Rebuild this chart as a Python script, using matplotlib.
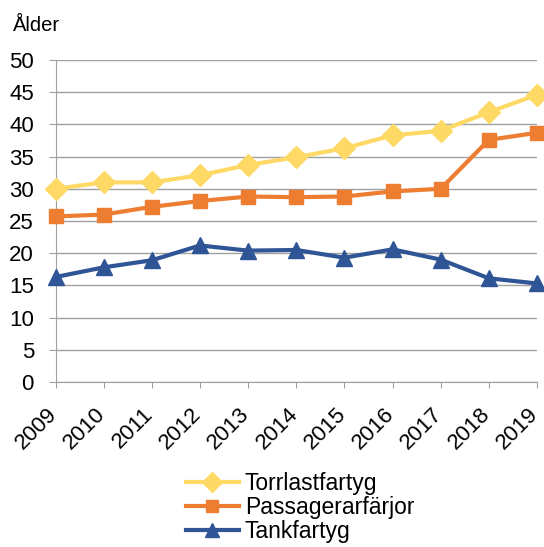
import matplotlib.pyplot as plt
import matplotlib.transforms as mtransforms

plt.rcParams['font.family'] = ['Liberation Sans', 'DejaVu Sans']

years = ['2009', '2010', '2011', '2012', '2013', '2014', '2015', '2016', '2017', '2018', '2019']
torrlast = [30.0, 31.0, 31.0, 32.1, 33.7, 34.9, 36.3, 38.3, 39.0, 41.9, 44.6]
passagerar = [25.7, 26.0, 27.2, 28.1, 28.8, 28.7, 28.8, 29.6, 30.0, 37.6, 38.7]
tank = [16.3, 17.8, 18.9, 21.2, 20.4, 20.5, 19.3, 20.6, 19.0, 16.1, 15.3]

fig = plt.figure(figsize=(5.44, 5.47), dpi=100)
ax = fig.add_axes([55.5/544, 1-382/547, (537-55.5)/544, (382-60)/547])

x = list(range(len(years)))
ax.plot(x, torrlast, color='#FFD966', lw=3, marker='D', ms=11, label='Torrlastfartyg', clip_on=False, zorder=3)
ax.plot(x, passagerar, color='#ED7D31', lw=3, marker='s', ms=10, label='Passagerarfärjor', clip_on=False, zorder=3)
ax.plot(x, tank, color='#2F5597', lw=3, marker='^', ms=11, label='Tankfartyg', clip_on=False, zorder=3)

ax.set_xlim(0, len(years) - 1)
ax.set_ylim(0, 50)
ax.set_yticks(range(0, 51, 5))
ax.set_xticks(x)
ax.set_xticklabels(years, rotation=45, ha='right', rotation_mode='anchor', fontsize=16)
ax.tick_params(axis='y', labelsize=16, length=5, color='#A0A0A0', pad=10.5)
ax.tick_params(axis='x', length=4.5, color='#A0A0A0', pad=11)
# nudge year labels a bit to the left
shift = mtransforms.ScaledTranslation(-9/100, 0, fig.dpi_scale_trans)
for lab in ax.get_xticklabels():
    lab.set_transform(lab.get_transform() + shift)
ax.grid(axis='y', color='#A0A0A0', lw=1)
ax.set_axisbelow(True)
for s in ['top', 'right']:
    ax.spines[s].set_visible(False)
ax.spines['left'].set_color('#A0A0A0')
ax.spines['bottom'].set_color('#A0A0A0')

fig.text(13/544, 1-31/547, 'Ålder', fontsize=14.5, va='baseline')

fig.legend(loc='upper left', bbox_to_anchor=(186/544, 1-472/547), frameon=False, fontsize=16.5,
           handlelength=2.3, labelspacing=0.05, handletextpad=0.27, borderpad=0, borderaxespad=0,
           markerscale=0.9)

fig.savefig('out.png', dpi=100)
